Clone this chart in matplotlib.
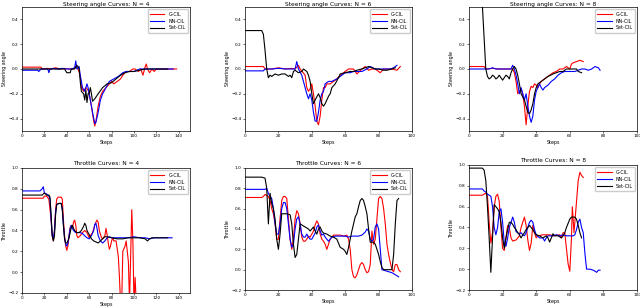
import matplotlib
matplotlib.use("Agg")
import matplotlib.pyplot as plt
import numpy as np

# --- steering angle, N = 4 ---
st4_gcil = [(0, 0.015), (17, 0.015), (18, 0.0), (22, 0.005), (26, 0.0), (30, 0.01), (34, 0.0), (38, 0.005),
            (42, 0.0), (46, 0.0), (48, 0.02), (50, 0.0), (52, -0.05), (53, -0.15), (55, -0.18), (57, -0.15),
            (59, -0.17), (60, -0.2), (62, -0.3), (64, -0.42), (65, -0.46), (66, -0.42), (68, -0.3), (70, -0.22),
            (72, -0.18), (75, -0.15), (78, -0.12), (80, -0.10), (82, -0.12), (85, -0.1), (88, -0.08), (90, -0.05),
            (93, -0.02), (96, -0.02), (99, 0.0), (101, 0.0), (104, -0.02), (106, 0.0), (108, -0.05), (110, 0.02),
            (111, 0.04), (112, 0.0), (114, -0.03), (116, 0.0), (118, -0.02), (120, 0.0), (125, 0.0), (130, 0.0),
            (138, 0.0)]
st4_nncil = [(0, -0.01), (14, -0.01), (15, -0.02), (17, 0.0), (20, 0.0), (23, 0.0), (24, -0.03), (25, 0.0),
             (28, 0.005), (32, 0.0), (36, 0.005), (40, 0.0), (44, 0.0), (47, 0.01), (48, 0.065), (49, 0.0),
             (51, 0.02), (52, -0.05), (54, -0.15), (56, -0.18), (57, -0.15), (58, -0.12), (59, -0.15), (61, -0.25),
             (63, -0.35), (65, -0.44), (66, -0.43), (68, -0.35), (70, -0.25), (72, -0.2), (75, -0.15), (78, -0.1),
             (82, -0.08), (86, -0.06), (90, -0.03), (93, -0.02), (96, -0.02), (100, -0.02), (105, 0.0),
             (110, 0.0), (120, 0.0), (130, 0.0), (135, 0.0)]
st4_setcil = [(0, 0.0), (38, 0.0), (40, -0.03), (43, -0.03), (44, 0.0), (47, 0.0), (49, 0.03), (50, 0.02),
              (51, 0.0), (52, -0.1), (53, -0.18), (55, -0.2), (56, -0.25), (57, -0.17), (58, -0.27), (59, -0.2),
              (60, -0.2), (61, -0.15), (62, -0.2), (63, -0.26), (65, -0.24), (68, -0.2), (72, -0.15), (76, -0.12),
              (80, -0.11), (84, -0.08), (88, -0.05), (92, -0.03), (96, -0.02), (100, -0.02), (105, -0.01),
              (110, 0.0), (120, 0.0), (130, 0.0)]

# --- steering angle, N = 6 ---
st6_gcil = [(0, 0.02), (11, 0.02), (12, 0.0), (16, 0.0), (20, 0.01), (24, 0.0), (28, 0.005), (30, 0.0),
            (32, 0.03), (33, 0.0), (36, -0.05), (37, -0.15), (38, -0.18), (39, -0.16), (40, -0.12), (41, -0.2),
            (42, -0.3), (43, -0.42), (44, -0.45), (45, -0.38), (46, -0.25), (47, -0.15), (48, -0.15),
            (49, -0.12), (51, -0.12), (53, -0.1), (55, -0.08), (57, -0.05), (60, -0.02), (62, 0.0), (65, 0.0),
            (67, -0.04), (70, 0.0), (72, 0.02), (74, -0.01), (76, 0.0), (78, 0.0), (81, -0.03), (83, 0.0),
            (85, 0.0), (88, 0.0), (91, -0.01), (93, 0.02)]
st6_nncil = [(0, -0.015), (11, -0.015), (12, 0.0), (16, 0.0), (20, 0.005), (25, 0.0), (30, 0.0), (31, 0.06),
             (32, 0.0), (34, -0.05), (36, -0.15), (37, -0.2), (38, -0.24), (39, -0.2), (40, -0.25), (41, -0.35),
             (42, -0.42), (43, -0.42), (44, -0.35), (45, -0.25), (46, -0.2), (47, -0.18), (48, -0.12),
             (50, -0.1), (52, -0.1), (55, -0.08), (58, -0.05), (60, -0.03), (63, -0.03), (65, -0.02),
             (68, -0.02), (70, -0.02), (73, 0.0), (75, 0.02), (78, 0.0), (80, 0.0), (84, 0.0), (87, 0.0),
             (89, 0.01), (91, 0.03)]
st6_setcil = [(0, 0.31), (10, 0.31), (11, 0.28), (12, 0.15), (13, 0.0), (14, -0.07), (15, -0.05), (16, -0.06),
              (18, -0.04), (20, -0.05), (22, -0.04), (24, -0.04), (26, -0.06), (27, -0.05), (28, -0.07),
              (29, -0.02), (30, -0.01), (32, -0.03), (34, -0.02), (35, 0.0), (37, -0.02), (38, -0.05),
              (39, -0.1), (40, -0.2), (41, -0.28), (42, -0.25), (44, -0.2), (45, -0.23), (46, -0.28), (47, -0.3),
              (48, -0.28), (49, -0.25), (50, -0.22), (51, -0.2), (52, -0.15), (54, -0.12), (56, -0.07),
              (57, -0.04), (60, -0.03), (63, -0.02), (65, -0.02), (67, -0.01), (70, 0.0), (72, 0.01),
              (74, 0.02), (76, 0.01), (78, 0.0), (80, 0.0), (83, -0.01), (85, -0.01), (88, 0.0), (90, 0.01)]

# --- steering angle, N = 8 ---
st8_gcil = [(0, 0.02), (9, 0.02), (10, 0.0), (14, 0.005), (18, 0.0), (22, 0.0), (25, 0.0), (26, 0.0),
            (27, -0.03), (28, -0.1), (29, -0.2), (30, -0.18), (31, -0.16), (32, -0.2), (33, -0.3), (34, -0.45),
            (35, -0.3), (36, -0.18), (37, -0.14), (38, -0.15), (39, -0.12), (40, -0.13), (41, -0.15),
            (42, -0.12), (43, -0.1), (45, -0.08), (47, -0.06), (50, -0.03), (52, -0.02), (54, 0.0), (56, 0.0),
            (58, 0.02), (60, 0.0), (61, 0.04), (62, 0.05), (64, 0.06), (66, 0.07), (68, 0.06)]
st8_nncil = [(0, 0.0), (12, 0.0), (14, 0.01), (16, 0.0), (20, 0.0), (25, 0.0), (26, 0.03), (27, 0.0),
             (28, -0.05), (29, -0.12), (30, -0.2), (31, -0.15), (32, -0.2), (33, -0.25), (34, -0.2),
             (35, -0.3), (36, -0.38), (37, -0.43), (38, -0.38), (39, -0.25), (40, -0.18), (41, -0.15),
             (42, -0.12), (43, -0.15), (44, -0.17), (45, -0.15), (47, -0.13), (49, -0.1), (51, -0.08),
             (53, -0.05), (55, -0.03), (57, -0.02), (59, -0.02), (61, -0.02), (63, -0.02), (65, -0.01),
             (67, 0.0), (69, 0.0), (71, -0.01), (73, 0.0), (75, 0.02), (77, 0.01), (78, -0.01)]
st8_setcil = [(7, 0.9), (8, 0.5), (10, 0.0), (11, -0.06), (12, -0.08), (13, -0.07), (14, -0.05), (15, -0.06),
              (16, -0.08), (17, -0.07), (18, -0.05), (19, -0.07), (20, -0.09), (21, -0.07), (22, -0.05),
              (23, -0.06), (24, -0.08), (25, -0.03), (26, 0.0), (27, 0.02), (28, 0.0), (29, -0.05), (30, -0.12),
              (31, -0.2), (33, -0.25), (34, -0.3), (35, -0.35), (36, -0.36), (37, -0.33), (38, -0.28),
              (39, -0.2), (40, -0.15), (41, -0.12), (43, -0.1), (45, -0.08), (47, -0.06), (50, -0.04),
              (52, -0.03), (54, -0.02), (56, -0.02), (58, 0.0), (60, 0.0), (62, 0.0), (64, 0.0), (65, -0.02),
              (67, -0.03)]

# --- throttle, N = 4 ---
th4_gcil = [(0, 0.71), (19, 0.71), (20, 0.73), (22, 0.73), (24, 0.7), (26, 0.5), (27, 0.35), (28, 0.3),
            (29, 0.4), (30, 0.6), (31, 0.7), (32, 0.72), (35, 0.72), (36, 0.7), (37, 0.5), (38, 0.35),
            (39, 0.25), (40, 0.21), (41, 0.25), (42, 0.35), (43, 0.43), (44, 0.45), (45, 0.42), (46, 0.48),
            (47, 0.5), (48, 0.45), (49, 0.35), (50, 0.33), (52, 0.35), (54, 0.38), (56, 0.4), (58, 0.38),
            (60, 0.33), (61, 0.35), (63, 0.38), (65, 0.45), (66, 0.48), (67, 0.5), (68, 0.48), (69, 0.4),
            (71, 0.33), (72, 0.32), (74, 0.35), (75, 0.42), (76, 0.36), (77, 0.28), (78, 0.22), (79, 0.25),
            (80, 0.3), (81, 0.33), (82, 0.3), (84, 0.3), (86, 0.15), (87, -0.05), (88, -0.3), (89, -0.3),
            (90, 0.2), (92, 0.25), (93, 0.3), (95, 0.1), (96, -0.3), (98, 0.6), (99, 0.3), (100, -0.3),
            (101, -0.05), (102, -0.3)]
th4_nncil = [(0, 0.78), (16, 0.78), (17, 0.79), (18, 0.8), (19, 0.82), (20, 0.76), (22, 0.75), (24, 0.73),
             (25, 0.7), (26, 0.5), (27, 0.35), (28, 0.32), (29, 0.4), (30, 0.58), (31, 0.65), (33, 0.66),
             (35, 0.66), (36, 0.6), (37, 0.45), (38, 0.33), (39, 0.27), (40, 0.25), (41, 0.28), (42, 0.35),
             (43, 0.42), (44, 0.45), (45, 0.42), (46, 0.4), (48, 0.38), (50, 0.38), (52, 0.38), (54, 0.37),
             (56, 0.35), (58, 0.33), (60, 0.32), (62, 0.35), (64, 0.4), (65, 0.46), (66, 0.47), (67, 0.42),
             (68, 0.35), (70, 0.3), (72, 0.28), (74, 0.3), (76, 0.33), (78, 0.34), (80, 0.33), (85, 0.33),
             (90, 0.33), (95, 0.33), (100, 0.34), (105, 0.33), (110, 0.33), (114, 0.32), (118, 0.33),
             (125, 0.33), (130, 0.33), (134, 0.33)]
th4_setcil = [(0, 0.74), (18, 0.74), (19, 0.75), (20, 0.76), (22, 0.74), (24, 0.74), (25, 0.72), (26, 0.55),
              (27, 0.35), (28, 0.3), (29, 0.35), (30, 0.55), (31, 0.65), (33, 0.66), (35, 0.66), (36, 0.6),
              (37, 0.45), (38, 0.32), (39, 0.28), (40, 0.28), (41, 0.3), (42, 0.33), (43, 0.38), (44, 0.43),
              (45, 0.45), (46, 0.42), (47, 0.4), (49, 0.38), (51, 0.38), (53, 0.4), (55, 0.44), (56, 0.47),
              (57, 0.45), (58, 0.4), (60, 0.36), (62, 0.32), (64, 0.3), (66, 0.29), (68, 0.28), (70, 0.3),
              (72, 0.32), (74, 0.34), (76, 0.34), (80, 0.33), (85, 0.32), (90, 0.32), (95, 0.33), (100, 0.33),
              (105, 0.33), (110, 0.32), (112, 0.3), (114, 0.32), (116, 0.33), (120, 0.33), (125, 0.33),
              (130, 0.33)]

# --- throttle, N = 6 ---
th6_gcil = [(0, 0.71), (10, 0.71), (11, 0.72), (12, 0.74), (13, 0.73), (14, 0.72), (15, 0.68), (16, 0.6),
            (17, 0.55), (18, 0.45), (19, 0.3), (20, 0.3), (21, 0.5), (22, 0.68), (23, 0.72), (24, 0.72),
            (25, 0.7), (26, 0.5), (27, 0.3), (28, 0.2), (29, 0.3), (30, 0.5), (31, 0.58), (32, 0.55),
            (33, 0.45), (34, 0.32), (35, 0.28), (36, 0.28), (37, 0.3), (38, 0.33), (39, 0.32), (40, 0.35),
            (41, 0.38), (42, 0.44), (43, 0.48), (44, 0.45), (45, 0.35), (46, 0.3), (47, 0.28), (48, 0.25),
            (49, 0.2), (50, 0.25), (51, 0.3), (53, 0.34), (55, 0.34), (57, 0.34), (59, 0.33), (61, 0.34),
            (62, 0.3), (63, 0.2), (64, 0.0), (65, -0.07), (66, -0.08), (67, -0.05), (68, 0.0), (69, 0.05),
            (70, 0.07), (71, 0.05), (72, 0.0), (73, -0.03), (74, -0.02), (75, 0.05), (76, 0.38), (77, 0.25),
            (78, 0.3), (79, 0.5), (80, 0.7), (81, 0.72), (82, 0.7), (83, 0.6), (84, 0.45), (85, 0.25),
            (86, 0.15), (87, 0.07), (88, 0.0), (89, -0.02), (90, 0.05), (91, 0.05), (92, 0.0), (93, -0.02)]
th6_nncil = [(0, 0.79), (12, 0.79), (13, 0.8), (14, 0.75), (15, 0.72), (16, 0.7), (17, 0.6), (18, 0.45),
             (19, 0.35), (20, 0.35), (21, 0.45), (22, 0.6), (23, 0.66), (24, 0.66), (25, 0.6), (26, 0.45),
             (27, 0.3), (28, 0.22), (29, 0.25), (30, 0.4), (31, 0.5), (32, 0.52), (33, 0.45), (34, 0.35),
             (35, 0.32), (36, 0.32), (37, 0.35), (38, 0.32), (39, 0.3), (40, 0.3), (42, 0.36), (43, 0.42),
             (44, 0.44), (45, 0.38), (46, 0.34), (47, 0.35), (48, 0.32), (50, 0.28), (51, 0.3), (52, 0.32),
             (54, 0.33), (56, 0.33), (58, 0.33), (60, 0.33), (62, 0.32), (64, 0.33), (66, 0.33), (68, 0.33),
             (70, 0.34), (72, 0.37), (73, 0.4), (74, 0.38), (75, 0.3), (76, 0.28), (77, 0.3), (78, 0.42),
             (79, 0.45), (80, 0.4), (81, 0.2), (82, 0.0), (84, -0.01), (86, -0.02), (88, -0.03), (90, -0.05),
             (92, -0.07)]
th6_setcil = [(0, 0.91), (10, 0.91), (12, 0.9), (13, 0.8), (14, 0.45), (15, 0.75), (16, 0.65), (17, 0.6),
              (18, 0.5), (19, 0.3), (20, 0.2), (21, 0.35), (22, 0.55), (23, 0.55), (25, 0.55), (27, 0.54),
              (28, 0.45), (29, 0.25), (30, 0.12), (31, 0.15), (32, 0.3), (33, 0.45), (34, 0.44), (36, 0.42),
              (38, 0.4), (39, 0.38), (40, 0.4), (41, 0.42), (42, 0.38), (43, 0.35), (44, 0.4), (45, 0.42),
              (46, 0.38), (47, 0.36), (49, 0.35), (51, 0.33), (53, 0.32), (55, 0.3), (57, 0.22), (59, 0.2),
              (60, 0.18), (61, 0.15), (62, 0.22), (63, 0.3), (64, 0.38), (65, 0.45), (66, 0.52), (67, 0.55),
              (68, 0.62), (69, 0.68), (70, 0.7), (71, 0.68), (72, 0.62), (73, 0.55), (74, 0.4), (75, 0.27),
              (77, 0.27), (78, 0.25), (79, 0.2), (80, 0.15), (81, 0.08), (82, 0.02), (83, 0.0), (88, 0.0),
              (89, 0.15), (90, 0.45), (91, 0.68), (92, 0.7)]

# --- throttle, N = 8 ---
th8_gcil = [(0, 0.71), (8, 0.71), (9, 0.72), (10, 0.73), (11, 0.7), (12, 0.45), (13, 0.25), (14, 0.35),
            (15, 0.6), (16, 0.7), (17, 0.72), (18, 0.65), (19, 0.4), (20, 0.2), (21, 0.18), (22, 0.3),
            (23, 0.42), (24, 0.4), (25, 0.3), (26, 0.27), (28, 0.28), (29, 0.3), (30, 0.32), (31, 0.4),
            (32, 0.45), (33, 0.5), (34, 0.42), (35, 0.28), (36, 0.18), (37, 0.25), (38, 0.42), (39, 0.35),
            (40, 0.3), (41, 0.32), (44, 0.33), (48, 0.33), (50, 0.32), (54, 0.33), (55, 0.3), (56, 0.35),
            (57, 0.35), (58, 0.2), (59, 0.05), (60, -0.02), (61, 0.3), (61.5, 0.6), (62.5, 0.35), (64, 0.65),
            (65, 0.85), (66, 0.93), (67, 0.9), (68, 0.88)]
th8_nncil = [(0, 0.77), (8, 0.77), (9, 0.75), (10, 0.74), (11, 0.72), (13, 0.7), (14, 0.6), (15, 0.4),
             (16, 0.33), (17, 0.4), (18, 0.55), (19, 0.58), (20, 0.45), (21, 0.25), (22, 0.22), (23, 0.3),
             (24, 0.4), (25, 0.45), (26, 0.5), (27, 0.45), (28, 0.36), (30, 0.34), (31, 0.35), (32, 0.33),
             (33, 0.32), (34, 0.35), (35, 0.4), (36, 0.45), (37, 0.47), (38, 0.45), (39, 0.38), (40, 0.33),
             (42, 0.3), (44, 0.3), (45, 0.27), (46, 0.3), (47, 0.32), (50, 0.32), (52, 0.33), (54, 0.32),
             (56, 0.33), (58, 0.32), (62, 0.32), (63, 0.33), (64, 0.38), (65, 0.45), (66, 0.48), (67, 0.4),
             (68, 0.35), (69, 0.15), (70, 0.0), (72, 0.0), (74, -0.01), (75, -0.02), (76, -0.03), (77, -0.01),
             (78, -0.01)]
th8_setcil = [(0, 0.97), (8, 0.97), (9, 0.95), (10, 0.85), (11, 0.6), (12, 0.3), (13, -0.03), (14, 0.3),
              (15, 0.62), (16, 0.6), (17, 0.58), (18, 0.55), (19, 0.45), (20, 0.3), (21, 0.2), (22, 0.3),
              (23, 0.38), (24, 0.45), (25, 0.45), (26, 0.43), (27, 0.4), (28, 0.38), (29, 0.35), (30, 0.33),
              (31, 0.3), (32, 0.33), (33, 0.35), (34, 0.38), (35, 0.4), (36, 0.42), (37, 0.4), (38, 0.38),
              (39, 0.35), (40, 0.33), (42, 0.32), (44, 0.3), (46, 0.32), (47, 0.3), (48, 0.26), (49, 0.3),
              (50, 0.34), (51, 0.32), (53, 0.32), (55, 0.3), (56, 0.32), (57, 0.35), (58, 0.4), (59, 0.44),
              (60, 0.48), (61, 0.5), (63, 0.5), (64, 0.48), (65, 0.42), (66, 0.35), (67, 0.3)]

labels = ["G-CIL", "NN-CIL", "Set-CIL"]
colors = ["red", "blue", "black"]

W, H = 640, 307
fig = plt.figure(figsize=(W / 100, H / 100), dpi=100)


def panel(box, curves, title, ylabel, xmax, ylim, xticks, tpad=2):
    # box in pixels: left, top, right, bottom
    l, t, r, b = box
    ax = fig.add_axes([l / W, 1 - b / H, (r - l) / W, (b - t) / H])
    for pts, lab, c in zip(curves, labels, colors):
        xy = np.array(pts).T
        ax.plot(xy[0], xy[1], color=c, lw=0.8, label=lab)
    ax.set_xlim(0, xmax)
    ax.set_ylim(*ylim)
    ax.set_xticks(xticks)
    ax.set_title(title, fontsize=4.2, pad=tpad)
    ax.set_xlabel("Steps", fontsize=3.4, labelpad=1)
    ax.set_ylabel(ylabel, fontsize=3.4, labelpad=1)
    ax.tick_params(labelsize=3.1, length=1.5, width=0.4, pad=1)
    for s in ax.spines.values():
        s.set_linewidth(0.5)
    ax.legend(loc="upper right", fontsize=3.4, handlelength=3, frameon=True,
              borderpad=0.5, labelspacing=0.4, fancybox=True, framealpha=1)
    return ax


panel((22, 7, 190, 131), [st4_gcil, st4_nncil, st4_setcil], "Steering angle Curves: N = 4",
      "Steering angle", 150, (-0.5, 0.5), range(0, 141, 20), tpad=0.8)
panel((245, 7, 412, 131), [st6_gcil, st6_nncil, st6_setcil], "Steering angle Curves: N = 6",
      "Steering angle", 100, (-0.5, 0.5), range(0, 101, 20), tpad=0.8)
panel((469, 7, 637, 131), [st8_gcil, st8_nncil, st8_setcil], "Steering angle Curves: N = 8",
      "Steering angle", 100, (-0.5, 0.5), range(0, 101, 20), tpad=0.8)
panel((22, 168, 190, 293), [th4_gcil, th4_nncil, th4_setcil], "Throttle Curves: N = 4",
      "Throttle", 150, (-0.2, 1.0), range(0, 141, 20))
panel((245, 168, 412, 290), [th6_gcil, th6_nncil, th6_setcil], "Throttle Curves: N = 6",
      "Throttle", 100, (-0.2, 1.0), range(0, 101, 20))
panel((469, 165, 637, 290), [th8_gcil, th8_nncil, th8_setcil], "Throttle Curves: N = 8",
      "Throttle", 100, (-0.2, 1.0), range(0, 101, 20))

fig.savefig("out.png", dpi=100)
